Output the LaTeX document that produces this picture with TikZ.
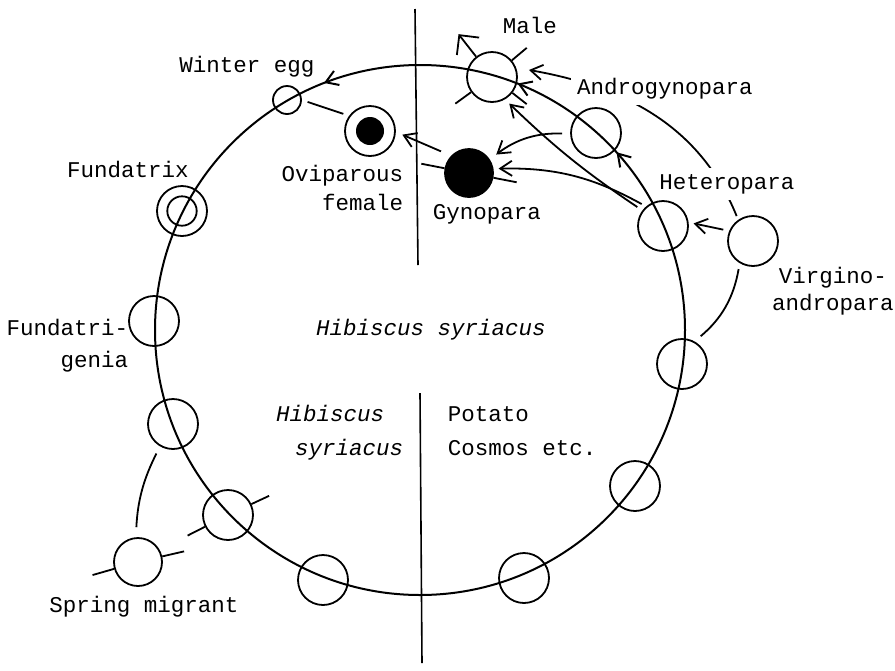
\documentclass[tikz,border=0pt]{standalone}
\usepackage{fontspec}
\setmonofont{Liberation Mono}
\usetikzlibrary{arrows.meta, calc, decorations.markings}

\begin{document}
\begin{tikzpicture}[x=0.5pt, y=0.5pt, line width=0.9pt, >={Straight Barb[angle=65:7pt]},
    every node/.style={font=\ttfamily\fontsize{11.25}{16}\selectfont, inner sep=0pt},
    mask/.style={fill=white, inner sep=3pt}]
\useasboundingbox (0,0) rectangle (895,-670);
\begin{scope}[every node/.style={circle, draw, inner sep=0pt, minimum size=25pt}]
    \node (egg) [minimum size=14pt] at (287,-100) {};
    \node (fundatrix) at (182,-211) {};
    \node (trigenia) at (154,-321) {};
    \node (s2) at (173,-424) {};
    \node (s3) at (228,-515) {};
    \node (s4) at (323,-580) {};
    \node (s5) at (524,-578) {};
    \node (s6) at (635,-486) {};
    \node (s7) at (682,-364) {};
    \node (hetero) at (663,-226) {};
    \node (andro) at (596,-133) {};
    \node (male) at (492,-77) {};
    \node (ovi) at (370,-131) {};
    \node (gyno) [fill, minimum size=24pt] at (469,-173) {};
    \node (virgino) at (753,-241) {};
    \node (spring) [minimum size=24pt] at (138,-562) {};
\end{scope}
\draw (fundatrix.center) circle[radius=14.7];
\fill (ovi.center) circle[radius=14];

\draw[line width=1pt, postaction={decorate}, decoration={markings,
    mark=at position 0.117 with {\arrow{>}},
    mark=at position 0.190 with {\arrow{>}},
    mark=at position 0.309 with {\arrow{>}}}] (420,-330) circle[radius=265];
\draw[line width=0.8pt] (415,-9) -- (418,-265);
\draw[line width=0.8pt] (420,-393) -- (422,-663);

\foreach \n/\a/\k in {male/40/1.75, male/216/1.75, male/322/1.7, gyno/169/1.95, gyno/349/1.95,
    spring/13/1.9, spring/196/1.9, s3/25/1.75, s3/207/1.75}
    \draw (\n.\a) -- ($(\n.center)!\k!(\n.\a)$);
\draw[-{Straight Barb[angle=90:10pt]}] (male.128) -- ($(male.center)!2.1!(male.128)$);

\draw[->, shorten <=3pt, shorten >=2.5pt] (virgino.157) -- (hetero.8);
\draw[->, shorten <=2.5pt, shorten >=2.5pt] (hetero.131) to[bend right=15] (gyno.10);
\draw[->, shorten <=3pt, shorten >=3pt] (hetero.143) to[bend left=5] (male.300);
\draw[->, shorten <=4pt, shorten >=4pt] (andro.182) to[bend right=20] (gyno.33);
\draw[->, shorten <=5.5pt, shorten >=3.5pt] (gyno.136) -- (ovi.358);
\draw[shorten <=3pt, shorten >=3pt] (ovi.144) -- (egg.0);
\draw[->, shorten <=2pt, shorten >=6.5pt] (virgino.125) to[out=112, in=-10] (male.21);
\draw[shorten <=4pt, shorten >=3pt] (s7.61) to[bend right=20] (virgino.239);
\draw[shorten <=4pt, shorten >=5pt] (s2.240) to[bend right=12] (spring.95);

\node[anchor=base] at (530,-33) {Male};
\node[anchor=base] at (247,-72) {Winter egg};
\node[anchor=base, mask] at (665,-94) {Androgynopara};
\node[anchor=base, mask] at (727,-189) {Heteropara};
\node[anchor=base] at (487,-219) {Gynopara};
\node[anchor=base east, align=right, font=\ttfamily\fontsize{11.25}{14.5}\selectfont] at (404,-210) {Oviparous\\female};
\node[anchor=base] at (128,-177) {Fundatrix};
\node[anchor=base east, align=right] at (129,-367) {Fundatri-\\genia};
\node[anchor=base, font=\ttfamily\itshape\fontsize{11.25}{16}\selectfont] at (431,-335) {Hibiscus syriacus};
\node[anchor=base east, align=right, font=\ttfamily\itshape\fontsize{11.25}{17}\selectfont] at (404,-455) {Hibiscus\kern9.5pt\\syriacus};
\node[anchor=base west, align=left, font=\ttfamily\fontsize{11.25}{17}\selectfont] at (447,-455) {Potato\\Cosmos etc.};
\node[anchor=base, align=center, font=\ttfamily\fontsize{11.25}{13.5}\selectfont] at (833,-310) {Virgino-\\andropara};
\node[anchor=base] at (144,-612) {Spring migrant};
\end{tikzpicture}
\end{document}
